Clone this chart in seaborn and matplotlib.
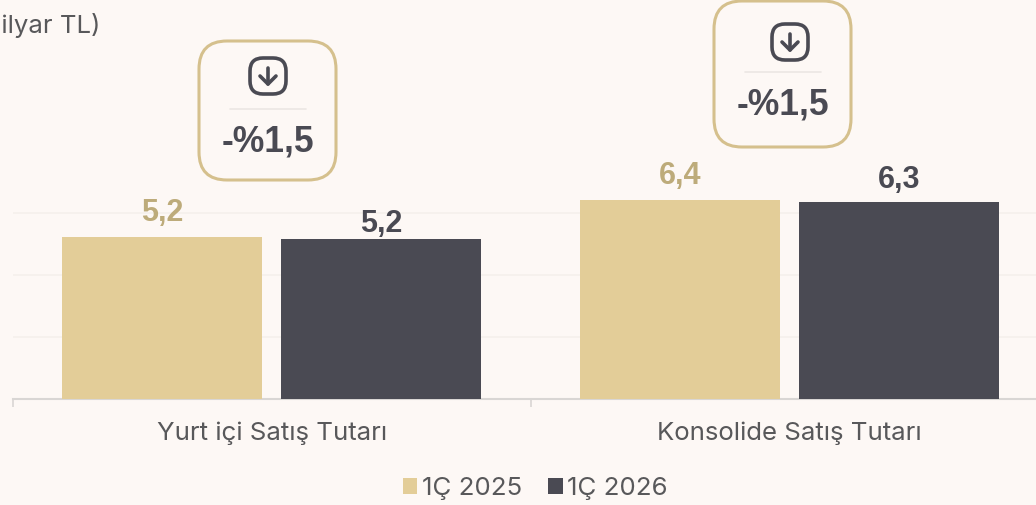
import pandas as pd
import matplotlib
matplotlib.use('Agg')
import matplotlib.pyplot as plt
import seaborn as sns
from matplotlib.patches import FancyBboxPatch
from matplotlib.transforms import Affine2D

# --- Data ---
CATEGORIES = ['Yurt içi Satış Tutarı', 'Konsolide Satış Tutarı']
PERIODS = ['1Ç 2025', '1Ç 2026']
VALUES_2025 = [5.23, 6.42]
VALUES_2026 = [5.16, 6.35]
LABELS_2025 = ['5,2', '6,4']
LABELS_2026 = ['5,2', '6,3']
CHANGES = ['-%1,5', '-%1,5']
UNIT = '(Milyar TL)'

# --- Style ---
BG = '#FDF8F5'
GOLD = '#E3CD98'
GOLD_TEXT = '#BDAB7A'
BOX_EDGE = '#D5C08D'
DARK = '#4A4A53'
GREY_TEXT = '#58585A'
BOLD_FONT = 'Liberation Sans'
W, H = 1036, 505

sns.set_style('white')
plt.rcParams['font.family'] = ['Inter', 'DejaVu Sans']

df = pd.DataFrame({
    'cat': CATEGORIES * 2,
    'period': [PERIODS[0]] * 2 + [PERIODS[1]] * 2,
    'value': VALUES_2025 + VALUES_2026,
})

fig = plt.figure(figsize=(W / 100, H / 100), dpi=100, facecolor=BG)
# axes run past the right edge of the picture, as in the original crop
ax = fig.add_axes([13 / W, (H - 399) / H, 1035 / W, 399 / H], facecolor=BG)

sns.barplot(data=df, x='cat', y='value', hue='period', palette=[GOLD, DARK],
            width=0.846, gap=0.087, saturation=1, linewidth=0, ax=ax, legend=False, zorder=3)

ax.set_xlim(-0.5, 1.5)
ax.set_ylim(0, 399 / 31)
ax.set_xlabel('')
ax.set_ylabel('')
ax.set_yticks([2, 4, 6])
ax.set_yticklabels([])
ax.grid(axis='y', color='#F5F0EC', linewidth=1.2, zorder=0)
ax.tick_params(axis='y', length=0)
sns.despine(ax=ax, left=True, right=True, top=True)
ax.spines['bottom'].set_color('#D9D6D4')
ax.spines['bottom'].set_linewidth(1.5)

# category boundaries carry the ticks, names sit under the centres
ax.set_xticks([-0.5, 0.5, 1.5])
ax.set_xticklabels([])
ax.tick_params(axis='x', length=6, width=1.2, color='#D9D6D4', bottom=True)
for i, name in enumerate(CATEGORIES):
    ax.annotate(name, (i, 0), xytext=(0, -34), textcoords='offset pixels',
                ha='center', va='center', fontsize=18.6, color=GREY_TEXT)

# value labels above the bars, each one sits at its own distance in the original
paddings = [[6.5, 6.5], [0, 5.5]]
for container, labels, color, pads in zip(ax.containers, [LABELS_2025, LABELS_2026],
                                          [GOLD_TEXT, DARK], paddings):
    anns = ax.bar_label(container, labels=labels, fontsize=22, fontweight='bold',
                        family=BOLD_FONT, color=color)
    for ann, pad in zip(anns, pads):
        ann.xyann = (0, pad)

# pixel coordinates measured from the top left of the picture
px = Affine2D().scale(1, -1).translate(0, H)


def draw_callout(x0, y0, bh, icon_x, icon_y, rule_y, text_y, text):
    """Rounded box with the down arrow icon, a rule and the change text."""
    bw = 137
    box = FancyBboxPatch((x0 + 28, y0 + 28), bw - 56, bh - 56,
                         boxstyle='round,pad=28,rounding_size=28',
                         linewidth=2.2, edgecolor=BOX_EDGE, facecolor=BG,
                         transform=px, zorder=5)
    fig.add_artist(box)
    cx = x0 + bw / 2
    icon = FancyBboxPatch((icon_x - 6, icon_y - 6), 12, 12,
                          boxstyle='round,pad=12,rounding_size=13',
                          linewidth=2.6, edgecolor=DARK, facecolor='none',
                          transform=px, zorder=6)
    fig.add_artist(icon)
    fig.add_artist(plt.Line2D([icon_x, icon_x], [icon_y - 8, icon_y + 8], color=DARK, linewidth=2.6,
                              solid_capstyle='round', transform=px, zorder=6))
    fig.add_artist(plt.Line2D([icon_x - 8, icon_x, icon_x + 8], [icon_y, icon_y + 8, icon_y], color=DARK,
                              linewidth=2.6, solid_capstyle='round', solid_joinstyle='round',
                              transform=px, zorder=6))
    fig.add_artist(plt.Line2D([cx - 38, cx + 38], [rule_y, rule_y], color='#EBE7E3',
                              linewidth=1.2, transform=px, zorder=6))
    fig.text(cx / W, 1 - text_y / H, text, ha='center', va='center', fontsize=25.6,
             fontweight='bold', family=BOLD_FONT, color=DARK, zorder=7)


draw_callout(199, 41, 139, 268, 76, 109, 142, CHANGES[0])
draw_callout(714, 1, 146, 790, 42, 72, 105, CHANGES[1])

fig.text(100 / W, 1 - 25 / H, UNIT, ha='right', va='center', fontsize=18.5, color=GREY_TEXT)

# legend
handles = [plt.Rectangle((0, 0), 1, 1, color=c, linewidth=0) for c in [GOLD, DARK]]
fig.legend(handles, PERIODS, loc='center', bbox_to_anchor=(535.5 / W, 1 - 488.5 / H), ncols=2,
           frameon=False, fontsize=18.6, labelcolor=GREY_TEXT, handlelength=0.56, handleheight=0.56,
           handletextpad=0.18, columnspacing=1.0, borderpad=0, borderaxespad=0)

plt.savefig('out.png', dpi=100, facecolor=BG)
